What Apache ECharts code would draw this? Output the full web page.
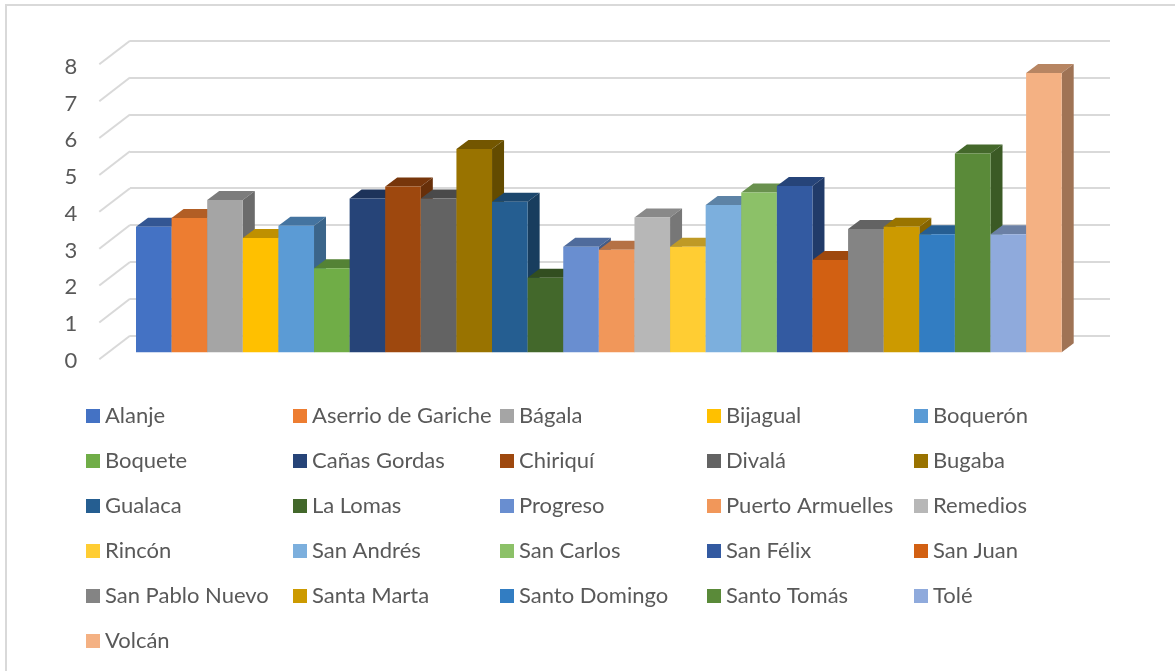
<!DOCTYPE html>
<html>
<head>
<meta charset="utf-8">
<style>html,body{margin:0;padding:0;background:#fff}#c{width:1175px;height:671px}</style>
<script src="https://cdn.jsdelivr.net/npm/echarts@6/dist/echarts.min.js"></script>
</head>
<body>
<div id="c"></div>
<script>
const places = ['Alanje','Aserrio de Gariche','Bágala','Bijagual','Boquerón','Boquete','Cañas Gordas','Chiriquí','Divalá','Bugaba','Gualaca','La Lomas','Progreso','Puerto Armuelles','Remedios','Rincón','San Andrés','San Carlos','San Félix','San Juan','San Pablo Nuevo','Santa Marta','Santo Domingo','Santo Tomás','Tolé','Volcán'];
const values = [3.40,3.64,4.13,3.10,3.43,2.28,4.17,4.49,4.17,5.51,4.08,2.02,2.86,2.78,3.65,2.86,3.99,4.33,4.51,2.50,3.34,3.40,3.20,5.39,3.20,7.57];
const colors = ['#4472C4','#ED7D31','#A5A5A5','#FFC000','#5B9BD5','#70AD47','#264478','#9E480E','#636363','#997300','#255E91','#43682B','#698ED0','#F1975A','#B7B7B7','#FFCD33','#7CAFDD','#8CC168','#335AA1','#D26012','#848484','#CC9A00','#327DC2','#5A8A39','#8FAADC','#F4B183'];
const wallTicks = [0,1,2,3,4,5,6,7,8];

const TEXT = '#595959', GRID = '#D9D9D9', FONT = 'Lato';
const BAR_DX = 12, BAR_DY = -9, WALL_DX = 30.7, WALL_DY = -23.6;

function shade(hex, k) {
  const n = parseInt(hex.slice(1), 16);
  const c = s => Math.round(((n >> s) & 255) * k);
  return 'rgb(' + c(16) + ',' + c(8) + ',' + c(0) + ')';
}

function barItem(color) {
  return function (params, api) {
    const cat = api.value(0);
    const top = api.coord([cat, api.value(1)]);
    const base = api.coord([cat, 0]);
    const w = api.size([1, 0])[0];
    const xl = top[0] - w / 2, xr = top[0] + w / 2;
    const t = top[1], b = base[1];
    return {
      type: 'group',
      children: [
        { type: 'polygon', shape: { points: [[xl, t], [xl + BAR_DX, t + BAR_DY], [xr + BAR_DX, t + BAR_DY], [xr, t]] }, style: { fill: shade(color, 0.75) } },
        { type: 'polygon', shape: { points: [[xr, t], [xr + BAR_DX, t + BAR_DY], [xr + BAR_DX, b + BAR_DY], [xr, b]] }, style: { fill: shade(color, 0.65) } },
        { type: 'rect', shape: { x: xl, y: t, width: w, height: b - t }, style: { fill: color } }
      ]
    };
  };
}

const barSeries = places.map((name, i) => ({
  name: name,
  type: 'custom',
  xAxisIndex: 0, yAxisIndex: 0,
  itemStyle: { color: colors[i] },
  renderItem: barItem(colors[i]),
  encode: { x: 0, y: 1 },
  z: 5,
  data: [[i, values[i]]]
}));

const wallSeries = {
  type: 'custom',
  xAxisIndex: 1, yAxisIndex: 1,
  silent: true,
  z: 1,
  encode: { x: 0, y: 1 },
  renderItem: function (params, api) {
    const p = api.coord([0, api.value(1)]);
    return { type: 'line', shape: { x1: p[0], y1: p[1], x2: p[0] - WALL_DX, y2: p[1] - WALL_DY }, style: { stroke: GRID, lineWidth: 2 } };
  },
  data: wallTicks.map(v => [0, v])
};

const legends = [0,1,2,3,4].map(c => ({
  orient: 'vertical',
  left: [86,293,500,707,914][c],
  top: 404,
  padding: 0,
  itemWidth: 14, itemHeight: 14,
  itemGap: 21,
  icon: 'rect',
  selectedMode: false,
  textStyle: { color: TEXT, fontFamily: FONT, fontSize: 22, lineHeight: 24 },
  data: places.filter((n, i) => i % 5 === c)
}));

const chart = echarts.init(document.getElementById('c'), null, { renderer: 'canvas' });
chart.setOption({
  animation: false,
  backgroundColor: '#fff',
  graphic: [{ type: 'polyline', silent: true, shape: { points: [[6, 671], [6, 5], [1175, 5]] }, style: { stroke: GRID, lineWidth: 2, fill: null } }],
  legend: legends,
  grid: [
    { left: 136, right: 113.3, top: 57.1, height: 295.2 },
    { left: 130, right: 65, top: 40.7, height: 295 },
    { left: 99.3, width: 40, top: 67, height: 293.5 }
  ],
  xAxis: [
    { gridIndex: 0, type: 'category', data: places, show: false, boundaryGap: true },
    { gridIndex: 1, type: 'value', min: 0, max: 1, show: false },
    { gridIndex: 2, type: 'value', min: 0, max: 1, show: false }
  ],
  yAxis: [
    { gridIndex: 0, type: 'value', min: 0, max: 8, interval: 1, show: false },
    { gridIndex: 1, type: 'value', min: 0, max: 8, interval: 1, axisLine: { show: false }, axisTick: { show: false }, axisLabel: { show: false }, splitLine: { show: true, lineStyle: { color: GRID, width: 2 } } },
    { gridIndex: 2, type: 'value', min: 0, max: 8, interval: 1, axisLine: { show: false }, axisTick: { show: false }, splitLine: { show: false },
      axisLabel: { color: TEXT, fontFamily: FONT, fontSize: 22, margin: 22 } }
  ],
  series: [wallSeries].concat(barSeries)
});
</script>
</body>
</html>
